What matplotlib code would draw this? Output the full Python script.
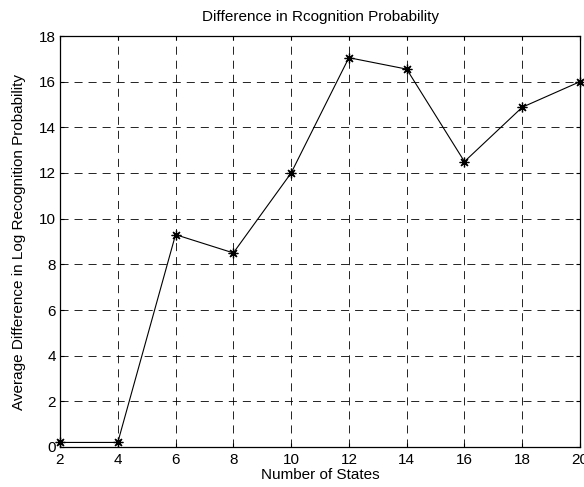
import matplotlib.pyplot as plt

# Data
states = [2, 4, 6, 8, 10, 12, 14, 16, 18, 20]
avg_diff = [0.2, 0.2, 9.3, 8.5, 12.0, 17.05, 16.55, 12.5, 14.88, 16.0]

plt.rcParams['font.family'] = ['Liberation Sans', 'DejaVu Sans']
plt.rcParams['font.size'] = 11
plt.rcParams['lines.scale_dashes'] = False

fig = plt.figure(figsize=(5.84, 4.87), dpi=100)
ax = fig.add_axes([60 / 584, 40 / 487, 520 / 584, 411 / 487])

# MATLAB-style asterisk marker
ax.plot(states, avg_diff, color='black', linewidth=0.8, marker=(8, 2, 0),
        markersize=7, markeredgewidth=0.9, clip_on=False)

ax.set_xlim(2, 20)
ax.set_ylim(0, 18)
ax.set_xticks(range(2, 21, 2))
ax.set_yticks(range(0, 19, 2))
ax.grid(True, color='black', linestyle=(0, (5.8, 4.3)), linewidth=0.6)
ax.tick_params(direction='in', top=True, right=True, length=3, width=0.8)
ax.tick_params(axis='x', pad=4)
ax.tick_params(axis='y', pad=3)
for s in ax.spines.values():
    s.set_linewidth(0.9)

ax.set_title('Difference in Rcognition Probability', fontsize=11, pad=11)
ax.set_xlabel('Number of States', labelpad=1)
ax.set_ylabel('Average Difference in Log Recognition Probability', labelpad=9)

plt.savefig('out.png', dpi=100)
plt.close()
